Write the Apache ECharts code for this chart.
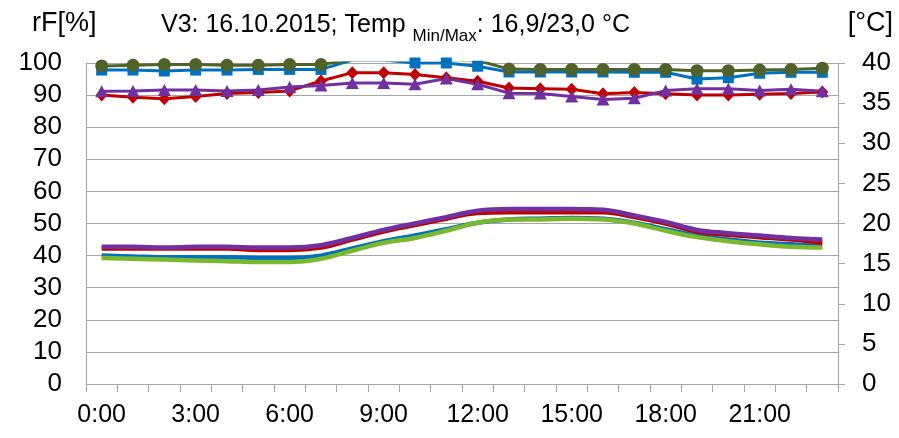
<!DOCTYPE html>
<html>
<head>
<meta charset="utf-8">
<script src="https://cdn.jsdelivr.net/npm/echarts@6/dist/echarts.min.js"></script>
<style>
html,body{margin:0;padding:0;background:#fff;}
#chart{width:899px;height:438px;}
</style>
</head>
<body>
<div id="chart"></div>
<script>
// Categories (hours)
var hours = ['0:00','1:00','2:00','3:00','4:00','5:00','6:00','7:00','8:00','9:00','10:00','11:00',
             '12:00','13:00','14:00','15:00','16:00','17:00','18:00','19:00','20:00','21:00','22:00','23:00'];

// Relative humidity rF [%] (left axis); values above 100 fall outside the plot and are clipped
var rfGreen  = [99.1, 99.3, 99.5, 99.5, 99.3, 99.3, 99.5, 99.5, 101, 101, 101, 101,
                100.8, 98.1, 98.0, 98.0, 98.0, 98.0, 98.0, 97.6, 97.6, 97.8, 98.0, 98.4];
var rfBlue   = [97.8, 97.8, 97.5, 97.8, 97.8, 98.0, 98.0, 98.0, 100.9, 100.9, 100, 100,
                99.0, 97.2, 97.2, 97.2, 97.2, 97.1, 97.1, 95.0, 95.4, 96.8, 97.1, 97.1];
var rfRed    = [90.0, 89.3, 88.9, 89.6, 90.5, 90.8, 91.3, 94.4, 97.0, 97.0, 96.4, 95.4,
                94.3, 92.2, 92.0, 91.8, 90.4, 90.8, 90.4, 90.0, 90.0, 90.3, 90.5, 91.0];
var rfPurple = [91.2, 91.3, 91.6, 91.6, 91.3, 91.6, 92.5, 93.0, 93.8, 93.8, 93.4, 95.2,
                93.4, 90.6, 90.5, 89.6, 88.6, 89.0, 91.4, 92.0, 92.0, 91.4, 91.8, 91.2];

// Temperatures [°C] (right axis)
var tPurple = [17.1, 17.1, 17.0, 17.1, 17.1, 17.0, 17.0, 17.3, 18.2, 19.2, 20.0, 20.8,
               21.6, 21.8, 21.8, 21.8, 21.7, 21.0, 20.2, 19.2, 18.8, 18.5, 18.2, 18.0];
var tRed    = [16.9, 16.9, 16.9, 16.9, 16.9, 16.7, 16.7, 17.0, 18.0, 19.0, 19.8, 20.6,
               21.3, 21.4, 21.4, 21.4, 21.4, 20.8, 20.0, 19.0, 18.6, 18.3, 18.0, 17.6];
var tBlue   = [16.0, 15.9, 15.8, 15.8, 15.8, 15.7, 15.7, 16.0, 16.9, 17.8, 18.5, 19.3,
               20.1, 20.5, 20.6, 20.7, 20.6, 20.1, 19.3, 18.5, 18.0, 17.6, 17.4, 17.2];
var tGreen  = [15.7, 15.6, 15.5, 15.4, 15.3, 15.2, 15.2, 15.6, 16.6, 17.6, 18.2, 19.1,
               20.1, 20.5, 20.5, 20.6, 20.5, 20.0, 19.1, 18.3, 17.8, 17.4, 17.1, 17.0];

// Axis ticks
var rfMin = 0, rfMax = 100, rfStep = 10;
var tMin = 0, tMax = 40, tStep = 5;

var FONT = 'Liberation Sans';
var chart = echarts.init(document.getElementById('chart'), null, {renderer: 'canvas'});

function humSeries(name, data, color, symbol, size) {
  return {
    name: name, type: 'line', yAxisIndex: 0, data: data,
    symbol: symbol, symbolSize: size, showAllSymbol: true,
    lineStyle: {color: color, width: 3},
    itemStyle: {color: color, borderColor: color, borderWidth: 0},
    emphasis: {disabled: true}, animation: false, clip: true, z: 3
  };
}
function tempSeries(name, data, color) {
  return {
    name: name, type: 'line', yAxisIndex: 1, data: data,
    symbol: 'none', smooth: 0.4,
    lineStyle: {color: color, width: 4.5},
    itemStyle: {color: color},
    emphasis: {disabled: true}, animation: false, z: 2
  };
}

var option = {
  backgroundColor: '#ffffff',
  animation: false,
  title: [
    {text: 'rF[%]', left: 27, top: 5, textStyle: {fontFamily: FONT, fontSize: 27, fontWeight: 'normal', color: '#000'}},
    {text: '{m|V3: 16.10.2015; Temp }{s|Min/Max}{m|: 16,9/23,0 °C}', left: 156, top: 0,
     textStyle: {fontFamily: FONT, fontSize: 25, fontWeight: 'normal', color: '#000',
       rich: {
         m: {fontFamily: FONT, fontSize: 25, color: '#000', lineHeight: 40, verticalAlign: 'middle'},
         s: {fontFamily: FONT, fontSize: 17, color: '#000', lineHeight: 17, verticalAlign: 'bottom'}
       }}},
    {text: '[°C]', right: 1, top: 5, textStyle: {fontFamily: FONT, fontSize: 27, fontWeight: 'normal', color: '#000'}}
  ],
  grid: {left: 86, right: 61, top: 63, bottom: 54, containLabel: false},
  xAxis: {
    type: 'category', data: hours, boundaryGap: true,
    axisLine: {show: true, lineStyle: {color: '#a6a6a6', width: 1}},
    axisTick: {show: true, interval: 0, length: 8, lineStyle: {color: '#a6a6a6'}},
    axisLabel: {interval: 2, margin: 19, fontFamily: FONT, fontSize: 25, color: '#000'},
    splitLine: {show: false}
  },
  yAxis: [
    {type: 'value', min: rfMin, max: rfMax, interval: rfStep, position: 'left',
     axisLine: {show: true, lineStyle: {color: '#a6a6a6'}},
     axisTick: {show: false},
     axisLabel: {margin: 24, fontFamily: FONT, fontSize: 26, color: '#000'},
     splitLine: {show: true, lineStyle: {color: '#a6a6a6', width: 1}}},
    {type: 'value', min: tMin, max: tMax, interval: tStep, position: 'right',
     axisLine: {show: true, lineStyle: {color: '#a6a6a6'}},
     axisTick: {show: true, length: 7, lineStyle: {color: '#a6a6a6'}},
     axisLabel: {margin: 24, fontFamily: FONT, fontSize: 26, color: '#000'},
     splitLine: {show: false}}
  ],
  series: [
    tempSeries('T blau', tBlue, '#0070c0'),
    tempSeries('T grün', tGreen, '#7ab82e'),
    tempSeries('T rot', tRed, '#c00000'),
    tempSeries('T lila', tPurple, '#7030a0'),
    humSeries('rF blau', rfBlue, '#0070c0', 'rect', 11),
    humSeries('rF grün', rfGreen, '#4f6228', 'circle', 13),
    humSeries('rF rot', rfRed, '#c00000', 'diamond', [12, 13]),
    humSeries('rF lila', rfPurple, '#7030a0', 'triangle', [13, 12])
  ]
};
chart.setOption(option);
</script>
</body>
</html>
